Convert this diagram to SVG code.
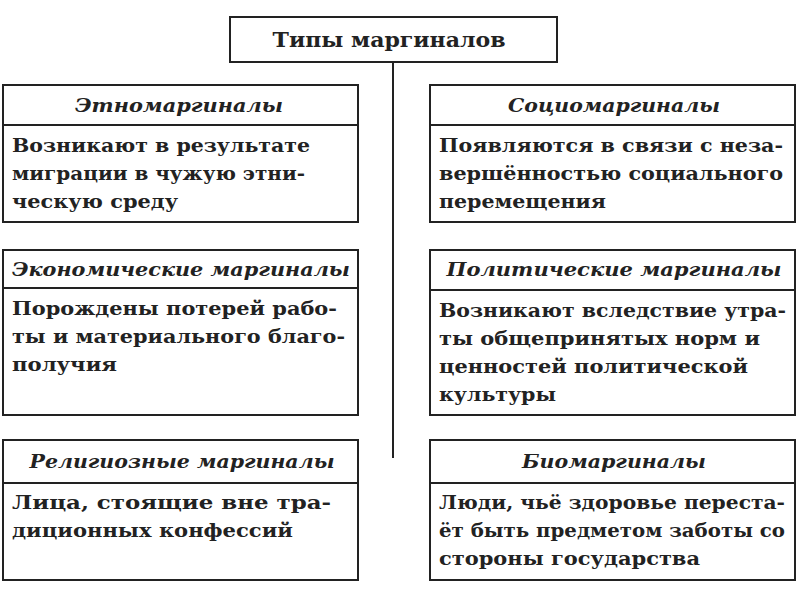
<svg xmlns="http://www.w3.org/2000/svg" width="800" height="600" viewBox="0 0 800 600">
<style>
rect{fill:#fff;stroke:#222;stroke-width:2}
text{font-family:"DejaVu Serif","Liberation Serif",serif;font-weight:bold;fill:#222;lengthAdjust:spacingAndGlyphs}
.h{font-style:italic;font-size:19px;text-anchor:middle}
.b{font-size:19px}
.t{font-size:20px;text-anchor:middle}
</style>
<rect x="0" y="0" width="800" height="600" style="fill:#fff;stroke:none"/>
<g id="connectors"><line x1="393" y1="62" x2="393" y2="458" stroke="#222" stroke-width="2"/></g>
<g id="root"><rect x="230" y="17" width="327" height="45"/><text class="t" x="389" y="47" textLength="233" lengthAdjust="spacingAndGlyphs">Типы маргиналов</text></g>
<g id="n1"><rect x="3" y="85" width="355" height="40"/><rect x="3" y="125" width="355" height="97"/>
<text class="h" x="179" y="112" textLength="208" lengthAdjust="spacingAndGlyphs">Этномаргиналы</text>
<text class="b" x="12" y="152" textLength="298" lengthAdjust="spacingAndGlyphs">Возникают в результате</text><text class="b" x="12" y="180" textLength="293" lengthAdjust="spacingAndGlyphs">миграции в чужую этни-</text><text class="b" x="12" y="208" textLength="166" lengthAdjust="spacingAndGlyphs">ческую среду</text></g>
<g id="n2"><rect x="430" y="85" width="365" height="40"/><rect x="430" y="125" width="365" height="97"/>
<text class="h" x="614" y="112" textLength="212" lengthAdjust="spacingAndGlyphs">Социомаргиналы</text>
<text class="b" x="439" y="152" textLength="344" lengthAdjust="spacingAndGlyphs">Появляются в связи с неза-</text><text class="b" x="439" y="180" textLength="344" lengthAdjust="spacingAndGlyphs">вершённостью социального</text><text class="b" x="439" y="208" textLength="167" lengthAdjust="spacingAndGlyphs">перемещения</text></g>
<g id="n3"><rect x="3" y="250" width="355" height="38"/><rect x="3" y="288" width="355" height="127"/>
<text class="h" x="181" y="276" textLength="338" lengthAdjust="spacingAndGlyphs">Экономические маргиналы</text>
<text class="b" x="12" y="315" textLength="325" lengthAdjust="spacingAndGlyphs">Порождены потерей рабо-</text><text class="b" x="12" y="343" textLength="333" lengthAdjust="spacingAndGlyphs">ты и материального благо-</text><text class="b" x="12" y="371" textLength="105" lengthAdjust="spacingAndGlyphs">получия</text></g>
<g id="n4"><rect x="430" y="250" width="365" height="40"/><rect x="430" y="290" width="365" height="125"/>
<text class="h" x="614" y="276" textLength="335" lengthAdjust="spacingAndGlyphs">Политические маргиналы</text>
<text class="b" x="439" y="317" textLength="347" lengthAdjust="spacingAndGlyphs">Возникают вследствие утра-</text><text class="b" x="439" y="345" textLength="321" lengthAdjust="spacingAndGlyphs">ты общепринятых норм и</text><text class="b" x="439" y="373" textLength="309" lengthAdjust="spacingAndGlyphs">ценностей политической</text><text class="b" x="439" y="401" textLength="117" lengthAdjust="spacingAndGlyphs">культуры</text></g>
<g id="n5"><rect x="3" y="440" width="355" height="43"/><rect x="3" y="483" width="355" height="97"/>
<text class="h" x="182" y="468" textLength="305" lengthAdjust="spacingAndGlyphs">Религиозные маргиналы</text>
<text class="b" x="12" y="509" textLength="319" lengthAdjust="spacingAndGlyphs">Лица, стоящие вне тра-</text><text class="b" x="12" y="537" textLength="281" lengthAdjust="spacingAndGlyphs">диционных конфессий</text></g>
<g id="n6"><rect x="430" y="440" width="365" height="43"/><rect x="430" y="483" width="365" height="97"/>
<text class="h" x="614" y="468" textLength="184" lengthAdjust="spacingAndGlyphs">Биомаргиналы</text>
<text class="b" x="439" y="509" textLength="346" lengthAdjust="spacingAndGlyphs">Люди, чьё здоровье переста-</text><text class="b" x="439" y="537" textLength="346" lengthAdjust="spacingAndGlyphs">ёт быть предметом заботы со</text><text class="b" x="439" y="565" textLength="261" lengthAdjust="spacingAndGlyphs">стороны государства</text></g>
</svg>
